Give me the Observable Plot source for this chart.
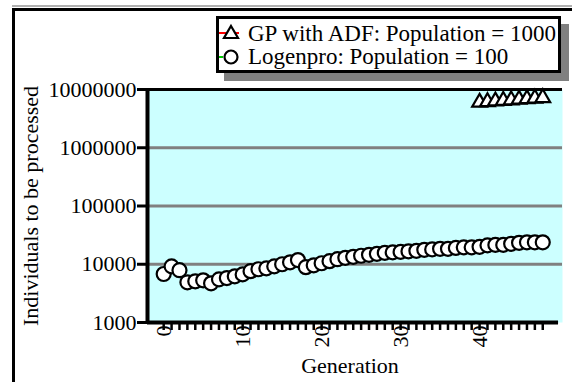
<!DOCTYPE html>
<html>
<head>
<meta charset="utf-8">
<script src="https://cdn.jsdelivr.net/npm/d3@7"></script>
<script src="https://cdn.jsdelivr.net/npm/@observablehq/plot@0.6"></script>
<style>
  html, body { margin: 0; padding: 0; background: #fff; }
  #wrap { position: relative; width: 572px; height: 382px; overflow: hidden; font-family: "Liberation Serif", "Times New Roman", serif; }
  #outer { position: absolute; left: 12px; top: 8px; width: 600px; height: 400px; border-left: 3px solid #000; border-top: 3px solid #000; box-sizing: border-box; }
  #topgray { position: absolute; left: 12px; top: 5px; width: 600px; height: 2px; background: #b0b0b0; }
  #legend { position: absolute; left: 216px; top: 16px; width: 345px; height: 57px; border: 3px solid #000; background: #fff; box-sizing: border-box; box-shadow: 8px 8px 0 #808080; font-size: 23px; }
  .row { position: absolute; left: 0; height: 24px; line-height: 24px; white-space: nowrap; }
  .row svg { position: absolute; left: 0; top: 0; }
  .row span { position: absolute; left: 29px; top: 0; }
  #chart { position: absolute; left: 0; top: 0; }
</style>
</head>
<body>
<div id="wrap">
  <div id="topgray"></div>
  <div id="outer"></div>
  <div id="chart"></div>
  <div id="legend"></div>
</div>
<script>
// ---- data ----
const logenproGens = d3.range(0, 49);
const logenproValues = [
  6800, 9200, 7900, 4900, 5100, 5300, 4700, 5500, 5800, 6200,
  6700, 7600, 8200, 8500, 9200, 10000, 10800, 11800, 8900, 9600,
  10400, 11300, 12200, 12900, 13400, 14000, 14500, 15100, 15700, 16000,
  16300, 16700, 17000, 17700, 18000, 18400, 18400, 19100, 19500, 19500,
  19900, 21100, 21500, 21500, 22400, 23300, 23800, 23800, 23800
];
const gpGens = [40, 41, 42, 43, 44, 45, 46, 47, 48];
const gpValues = [6000000, 6150000, 6300000, 6450000, 6600000, 6750000, 6900000, 7050000, 7200000];
const yTicks = [1000, 10000, 100000, 1000000, 10000000];
const gridValues = [10000, 100000, 1000000];
const xMinorTicks = d3.range(0, 49);
const xLabelTicks = [0, 10, 20, 30, 40];
const seriesNames = ["GP with ADF: Population = 1000", "Logenpro: Population = 100"];

const logenpro = logenproGens.map((g, i) => ({gen: g, value: logenproValues[i]}));
const gp = gpGens.map((g, i) => ({gen: g, value: gpValues[i]}));

const xDomain = [-2.05, 50.5];

const chart = Plot.plot({
  width: 572,
  height: 382,
  marginLeft: 147,
  marginRight: 10,
  marginTop: 89,
  marginBottom: 60,
  x: {domain: xDomain},
  y: {type: "log", domain: [1000, 10000000]},
  style: {fontFamily: "Liberation Serif, Times New Roman, serif", fontSize: "22px", background: "transparent", overflow: "visible", color: "#000"},
  marks: [
    Plot.frame({fill: "#CCFFFF", stroke: null}),
    Plot.ruleY(gridValues, {stroke: "#808080", strokeWidth: 3}),
    Plot.ruleY([10000000], {stroke: "#000", strokeWidth: 3}),
    Plot.ruleY([1000], {stroke: "#000", strokeWidth: 4, x1: xDomain[0], x2: 50}),
    Plot.ruleX([xDomain[0]], {stroke: "#000", strokeWidth: 4}),
    Plot.axisY({ticks: yTicks, tickFormat: () => "", tickSize: 10, strokeWidth: 3, label: null}),
    Plot.axisY({ticks: yTicks, tickFormat: d => String(d), tickSize: 0, tickPadding: 11, label: null, fontSize: "22px"}),
    Plot.axisX({ticks: xMinorTicks, tickFormat: () => "", tickSize: 8, strokeWidth: 2.5, label: null}),
    Plot.axisX({ticks: xLabelTicks, tickSize: 0, tickPadding: 3, tickRotate: -90, label: null, fontSize: "22px"}),
    Plot.dot(gp, {x: "gen", y: "value", symbol: "triangle", r: 5.5, fill: "#fff", stroke: "#000", strokeWidth: 2.2}),
    Plot.dot(logenpro, {x: "gen", y: "value", r: 7, fill: "#fff", stroke: "#000", strokeWidth: 2.2}),
    Plot.text(["Generation"], {frameAnchor: "bottom", dy: 50, dx: -5, fontSize: 22}),
    Plot.text(["Individuals to be processed"], {frameAnchor: "left", textAnchor: "middle", dx: -117, rotate: -90, fontSize: 22})
  ]
});
document.getElementById("chart").appendChild(chart);

// legend
const legend = document.getElementById("legend");
const rows = [
  {name: seriesNames[0], top: 3, line: "#ff0000", sym: "triangle"},
  {name: seriesNames[1], top: 26, line: "#00cc00", sym: "circle"}
];
rows.forEach(r => {
  const row = document.createElement("div");
  row.className = "row";
  row.style.top = r.top + "px";
  const shape = r.sym === "triangle"
    ? `<path d="M12,4 L19,16 L5,16 Z" fill="#fff" stroke="#000" stroke-width="2.2"/>`
    : `<circle cx="12" cy="12" r="6.5" fill="#fff" stroke="#000" stroke-width="2.2"/>`;
  const line = r.sym === "triangle"
    ? `<line x1="0" x2="20" y1="11" y2="11" stroke="${r.line}" stroke-width="2"/>`
    : `<line x1="0" x2="4" y1="12" y2="12" stroke="${r.line}" stroke-width="2"/>`;
  row.innerHTML = `<svg width="26" height="24">${line}${shape}</svg><span>${r.name}</span>`;
  legend.appendChild(row);
});
</script>
</body>
</html>
